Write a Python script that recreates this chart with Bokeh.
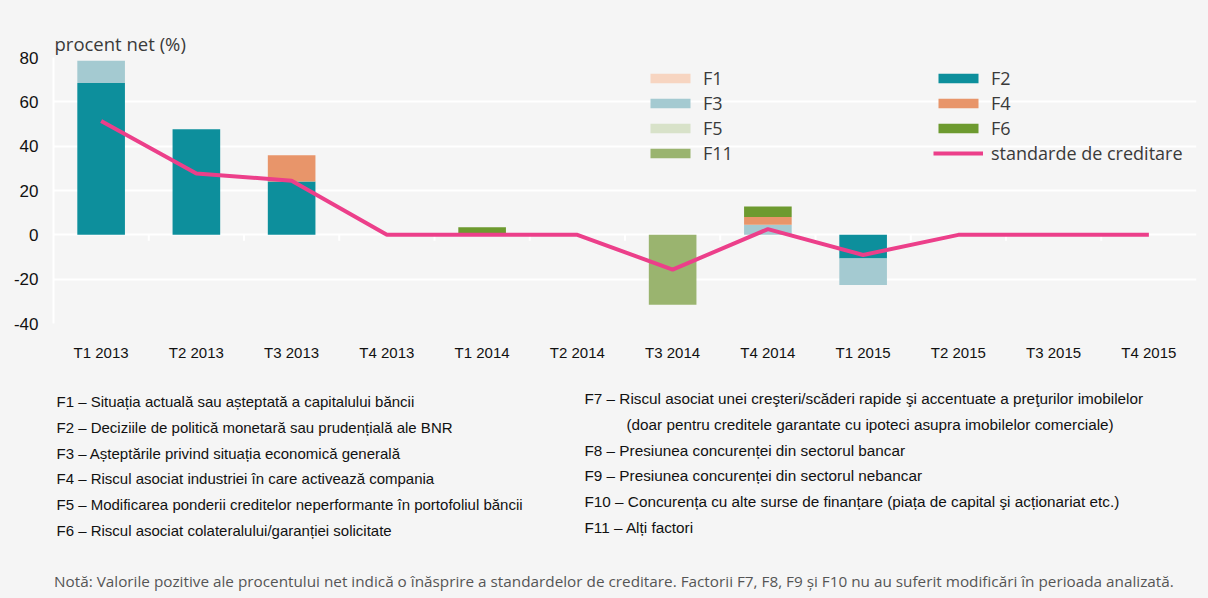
import numpy as np
from bokeh.plotting import figure
from bokeh.models import Range1d, FixedTicker, Legend, LegendItem
from bokeh.layouts import column
from bokeh.embed import file_html
from bokeh.resources import INLINE
from bokeh.core.properties import value

# ---------------- data ----------------
quarters = ["T1 2013", "T2 2013", "T3 2013", "T4 2013", "T1 2014", "T2 2014",
            "T3 2014", "T4 2014", "T1 2015", "T2 2015", "T3 2015", "T4 2015"]
F1 = [0, 0, 0, 0, 0, 0, 0, 0, 0, 0, 0, 0]
F2 = [68.5, 47.6, 24.1, 0, 0, 0, 0, 0, -10.7, 0, 0, 0]
F3 = [10.0, 0, 0, 0, 0, 0, 0, 4.6, -11.9, 0, 0, 0]
F4 = [0, 0, 11.8, 0, 0, 0, 0, 3.4, 0, 0, 0, 0]
F5 = [0, 0, 0, 0, 0, 0, 0, 0, 0, 0, 0, 0]
F6 = [0, 0, 0, 0, 3.4, 0, 0, 4.8, 0, 0, 0, 0]
F11 = [0, 0, 0, 0, 0, 0, -31.5, 0, 0, 0, 0, 0]
standard = [51.3, 27.7, 24.4, 0, 0, 0, -15.7, 2.6, -9.1, 0, 0, 0]

series_names = ["F1", "F2", "F3", "F4", "F5", "F6", "F11"]
series_values = [F1, F2, F3, F4, F5, F6, F11]
series_colors = ["#f7d5c1", "#0d8f9c", "#a4cad1", "#e8956a", "#d8e2c9", "#6d9a2f", "#9ab46f"]
line_name = "standarde de creditare"
line_color = "#ec3f8a"

y_ticks = [-40, -20, 0, 20, 40, 60, 80]

factor_texts_left = [
    "F1 – Situația actuală sau așteptată a capitalului băncii",
    "F2 – Deciziile de politică monetară sau prudențială ale BNR",
    "F3 – Așteptările privind situația economică generală",
    "F4 – Riscul asociat industriei în care activează compania",
    "F5 – Modificarea ponderii creditelor neperformante în portofoliul băncii",
    "F6 – Riscul asociat colateralului/garanției solicitate",
]
factor_texts_right = [
    "F7 – Riscul asociat unei creşteri/scăderi rapide şi accentuate a preţurilor imobilelor",
    "(doar pentru creditele garantate cu ipoteci asupra imobilelor comerciale)",
    "F8 – Presiunea concurenței din sectorul bancar",
    "F9 – Presiunea concurenței din sectorul nebancar",
    "F10 – Concurența cu alte surse de finanțare (piața de capital şi acționariat etc.)",
    "F11 – Alți factori",
]
note_text = ("Notă: Valorile pozitive ale procentului net indică o înăsprire a standardelor de creditare. "
             "Factorii F7, F8, F9 și F10 nu au suferit modificări  în perioada analizată.")
title_text = "procent net (%)"

# ---------------- styles / layout ----------------
BG = "#f5f5f5"
NARROW = "Liberation Sans"
LIGHT = "Open Sans"

W = 1208
H1 = 378          # chart part
H2 = 598 - H1     # explanatory texts
FL, FR, FT, FB = 53, 1196, 57, 323   # frame edges on the canvas

x_idx = np.arange(len(quarters))

p = figure(width=W, height=H1, x_range=Range1d(-0.5, len(quarters) - 0.5),
           y_range=Range1d(-40, 80), output_backend="svg", toolbar_location=None,
           background_fill_color=BG, border_fill_color=BG, outline_line_color=None,
           min_border_left=FL, min_border_right=W - FR, min_border_top=FT,
           min_border_bottom=H1 - FB, title=title_text)
p.title.text_font = LIGHT
p.title.text_font_size = "18.5px"
p.title.text_font_style = "normal"
p.title.text_color = "#3a3a3a"
p.title.offset = 1
p.title.standoff = 3

# category boundary tick marks under the zero line
bounds = x_idx[:-1] + 0.5
tick_len = 2.7
p.segment(x0=bounds, y0=np.zeros(len(bounds)), x1=bounds, y1=np.full(len(bounds), -tick_len),
          line_color="white", line_width=2, level="underlay")

# stacked bars (positive and negative stacks separately)
pos_base = np.zeros(len(quarters))
neg_base = np.zeros(len(quarters))
bar_renderers = {}
for name, vals, col in zip(series_names, series_values, series_colors):
    v = np.asarray(vals, dtype=float)
    bottom = np.where(v >= 0, pos_base, neg_base)
    top = bottom + v
    pos_base = np.where(v >= 0, top, pos_base)
    neg_base = np.where(v < 0, top, neg_base)
    r = p.vbar(x=x_idx, width=0.5, bottom=bottom, top=top, fill_color=col, line_color=None)
    bar_renderers[name] = r

line_r = p.line(x_idx, standard, line_color=line_color, line_width=4)

# axes
p.xaxis.ticker = FixedTicker(ticks=list(x_idx))
p.xaxis.major_label_overrides = {int(i): q for i, q in zip(x_idx, quarters)}
p.xaxis.axis_line_color = None
p.xaxis.major_tick_line_color = None
p.xaxis.minor_tick_line_color = None
p.xaxis.major_label_standoff = 14
p.xaxis.major_label_text_font = NARROW
p.xaxis.major_label_text_font_size = "15px"
p.xaxis.major_label_text_color = "#111111"

p.yaxis.ticker = FixedTicker(ticks=y_ticks)
p.yaxis.major_label_overrides = {t: str(t) for t in y_ticks}
p.yaxis.axis_line_color = "white"
p.yaxis.axis_line_width = 2
p.yaxis.major_tick_line_color = None
p.yaxis.minor_tick_line_color = None
p.yaxis.major_label_standoff = 9
p.yaxis.major_label_text_font = NARROW
p.yaxis.major_label_text_font_size = "17px"
p.yaxis.major_label_text_color = "#111111"

p.xgrid.visible = False
p.ygrid.ticker = FixedTicker(ticks=y_ticks)
p.ygrid.grid_line_color = "white"
p.ygrid.grid_line_width = 2

# legends (two columns)
leg_kw = dict(background_fill_alpha=0, border_line_color=None, padding=0, margin=0,
              glyph_width=50, glyph_height=12, label_height=25, spacing=0,
              label_standoff=8, label_text_font=LIGHT, label_text_font_size="18px",
              label_text_color="#3a3a3a")
leg1 = Legend(items=[LegendItem(label=n, renderers=[bar_renderers[n]]) for n in ["F1", "F3", "F5", "F11"]],
              location=(645 - FL, 158), **leg_kw)
leg2 = Legend(items=[LegendItem(label=n, renderers=[bar_renderers[n]]) for n in ["F2", "F4", "F6"]]
              + [LegendItem(label=line_name, renderers=[line_r])],
              location=(933 - FL, 158), **leg_kw)
p.add_layout(leg1)
p.add_layout(leg2)

# ---------------- texts below the chart ----------------
# frame of this panel is aligned with the chart frame, so its x range spans FL..FR in page pixels
t = figure(width=W, height=H2, x_range=Range1d(FL, FR), y_range=Range1d(598, H1),
           output_backend="svg", toolbar_location=None, x_axis_type=None, y_axis_type=None,
           background_fill_color=BG, border_fill_color=BG, outline_line_color=None,
           min_border_left=FL, min_border_right=W - FR, min_border_top=0, min_border_bottom=0)
t.xgrid.visible = False
t.ygrid.visible = False

pitch = 25.8
left_x = [56] * len(factor_texts_left)
left_y = [401 + i * pitch for i in range(len(factor_texts_left))]
right_x = [584, 626, 584, 584, 584, 584]
right_y = [398 + i * pitch for i in range(len(factor_texts_right))]
t.text(x=left_x, y=left_y, text=factor_texts_left, text_font=value(NARROW), text_font_size="15px",
       text_color="#111111", text_baseline="middle")
t.text(x=right_x, y=right_y, text=factor_texts_right, text_font=value(NARROW), text_font_size="15.3px",
       text_color="#111111", text_baseline="middle")
t.text(x=[53.5], y=[580], text=[note_text], text_font=value(LIGHT), text_font_size="15.3px",
       text_color="#555555", text_baseline="middle")

layout = column(p, t, spacing=0, styles={"background-color": BG})
open("out.html", "w").write(file_html(layout, INLINE))
